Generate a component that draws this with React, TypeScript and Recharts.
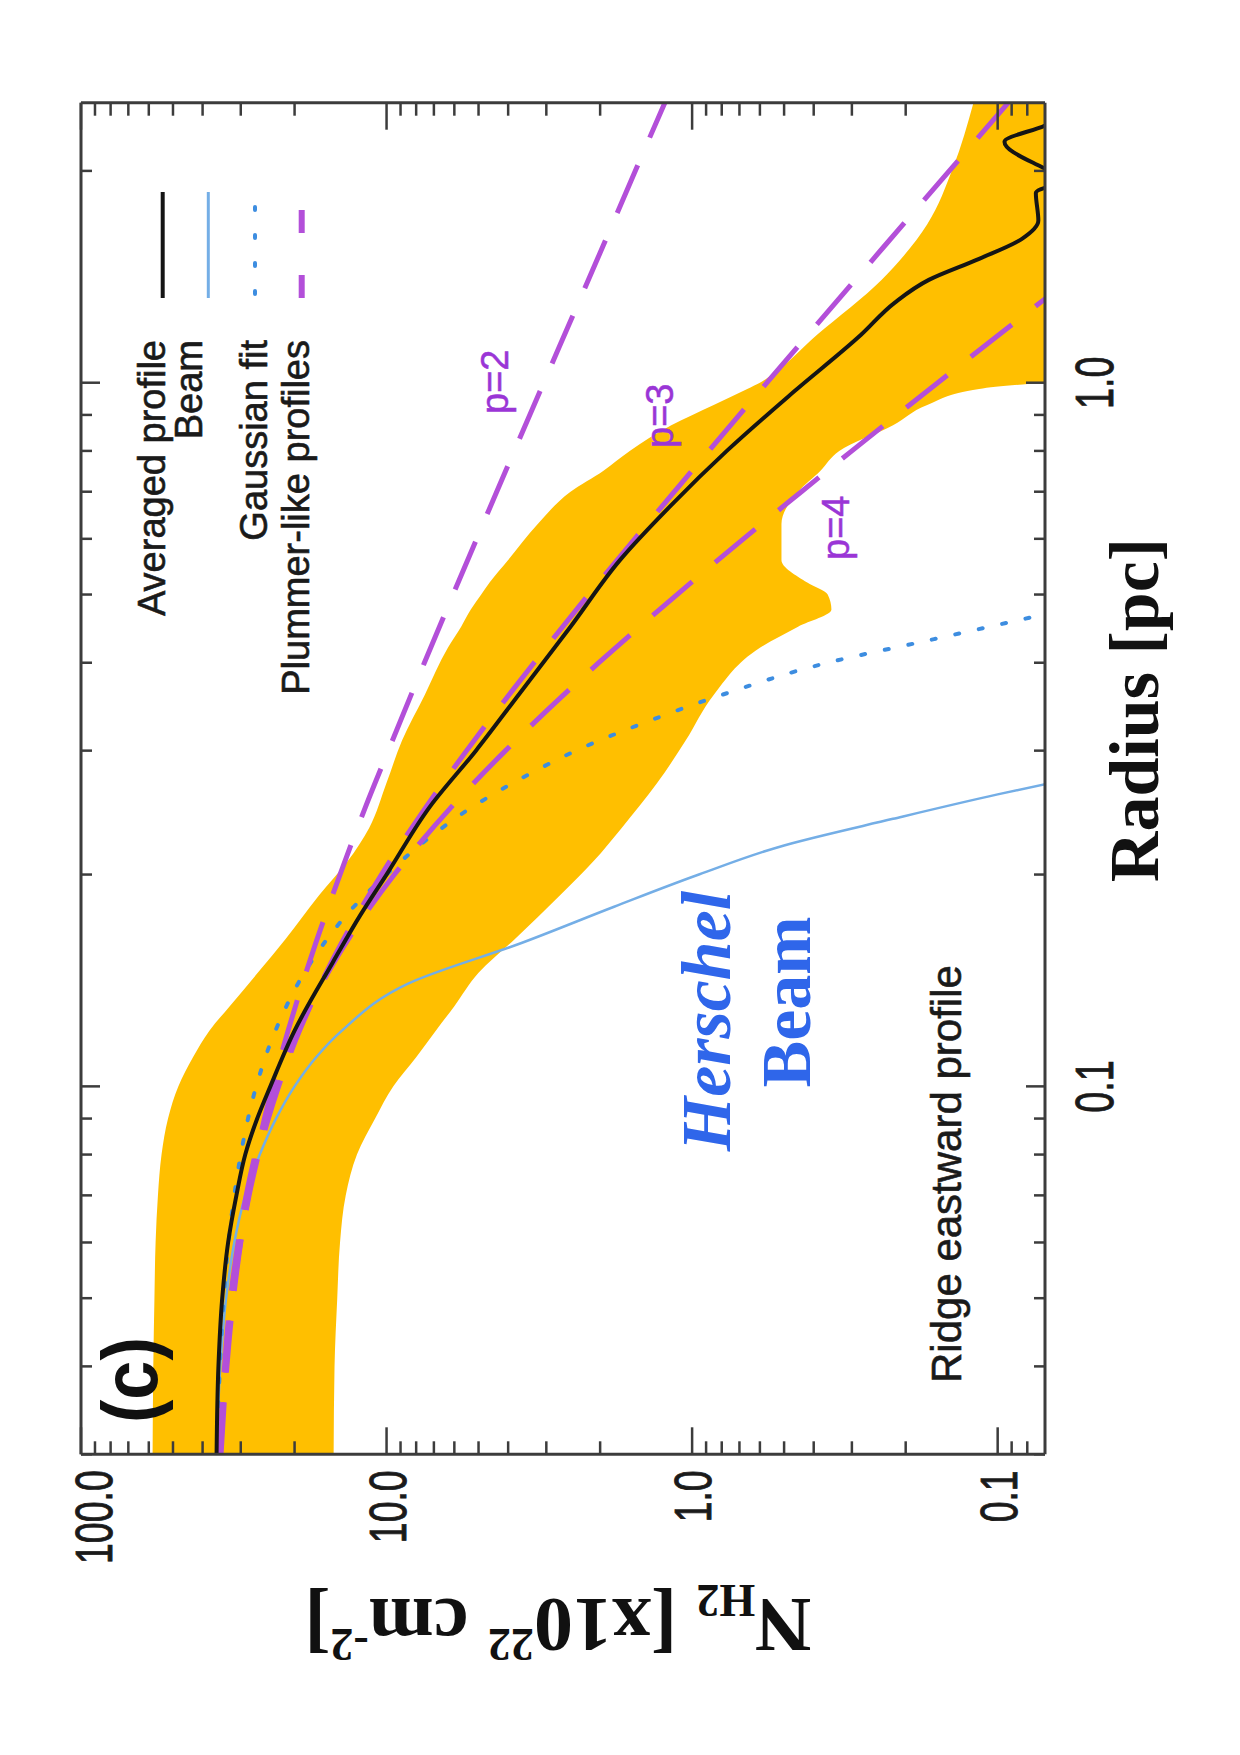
import React from 'react';
import { ComposedChart, Line, Area, XAxis, YAxis } from 'recharts';

// ---------- data (radius in pc, column density in 1e22 cm^-2) ----------
const radiusTicks = [0.03, 0.04, 0.05, 0.06, 0.07, 0.08, 0.09, 0.1, 0.2, 0.3, 0.4, 0.5, 0.6, 0.7, 0.8, 0.9, 1, 2];
const radiusTickLabels: Record<string, string> = { '0.1': '0.1', '1': '1.0' };
const columnTicks = [0.08, 0.09, 0.1, 0.2, 0.3, 0.4, 0.5, 0.6, 0.7, 0.8, 0.9, 1, 2, 3, 4, 5, 6, 7, 8, 9, 10, 20, 30, 40, 50, 60, 70, 80, 90, 100];
const columnTickLabels: Record<string, string> = { '0.1': '0.1', '1': '1.0', '10': '10.0', '100': '100.0' };

const bandRadius = [0.03, 0.04, 0.05, 0.06, 0.07, 0.08, 0.09, 0.1, 0.11, 0.12, 0.13, 0.145, 0.162, 0.187, 0.209, 0.233, 0.27, 0.31, 0.36, 0.42, 0.45, 0.476, 0.5, 0.52, 0.56, 0.63, 0.7, 0.75, 0.8, 0.87, 0.93, 0.98, 1.0, 1.02, 1.17, 1.4, 1.68, 2.02, 2.5];
const bandHigh = [58.3, 58.0, 57.5, 57.0, 56.0, 54.5, 51.9, 48.0, 43.0, 38.0, 32.6, 26.4, 21.4, 16.6, 13.4, 11.4, 10.0, 8.9, 7.5, 6.3, 5.7, 5.3, 4.9, 4.6, 4.0, 3.2, 2.5, 1.95, 1.6, 1.17, 0.85, 0.66, 0.6, 0.56, 0.39, 0.24, 0.17, 0.14, 0.12];
const bandLow = [14.9, 14.8, 14.5, 14.2, 13.6, 12.5, 10.9, 9.5, 8.0, 6.9, 6.0, 5.0, 3.8, 2.7, 2.1, 1.7, 1.3, 1.05, 0.85, 0.6, 0.45, 0.35, 0.36, 0.42, 0.51, 0.51, 0.45, 0.38, 0.33, 0.22, 0.17, 0.115, 0.07, 0.03, 0.03, 0.03, 0.03, 0.03, 0.03];

const averagedProfile: [number, number][] = [
  [0.03, 36], [0.04, 35.5], [0.05, 34.5], [0.06, 33], [0.07, 31], [0.08, 29], [0.09, 26.5], [0.1, 24],
  [0.12, 20], [0.15, 15], [0.175, 12.2], [0.2, 10], [0.25, 7.2], [0.3, 5.1], [0.36, 3.7], [0.45, 2.5],
  [0.56, 1.72], [0.67, 1.17], [0.8, 0.77], [0.97, 0.466], [1.17, 0.28], [1.3, 0.217], [1.4, 0.168],
  [1.5, 0.115], [1.6, 0.0835], [1.7, 0.0736], [1.86, 0.075], [1.95, 0.06], [2.02, 0.071], [2.2, 0.095],
  [2.32, 0.07], [2.47, 0.056],
];

const beamProfile: [number, number][] = [
  [0.03, 36], [0.04, 35], [0.05, 33.5], [0.06, 31.5], [0.07, 29], [0.08, 26], [0.09, 23], [0.1, 20],
  [0.11, 17], [0.12, 14], [0.14, 8.5], [0.16, 3.6], [0.18, 1.8], [0.2, 0.95], [0.22, 0.5], [0.24, 0.22],
  [0.26, 0.1], [0.28, 0.045],
];

const gaussianFit: [number, number][] = [
  [0.03, 35.9], [0.04, 35.1], [0.05, 34.1], [0.06, 32.9], [0.07, 31.5], [0.08, 30.0], [0.09, 28.4],
  [0.1, 26.7], [0.12, 23.1], [0.15, 17.7], [0.18, 12.8], [0.2, 10.0], [0.22, 7.8], [0.25, 5.2],
  [0.28, 3.3], [0.3, 2.4], [0.33, 1.4], [0.36, 0.8], [0.4, 0.36], [0.43, 0.17], [0.46, 0.085], [0.49, 0.045],
];

const plummerP2: [number, number][] = [
  [0.03, 34.8], [0.04, 33.3], [0.05, 31.7], [0.06, 30.0], [0.07, 28.3], [0.08, 26.6], [0.09, 25.1],
  [0.1, 23.6], [0.12, 21.0], [0.15, 17.9], [0.2, 14.2], [0.25, 11.7], [0.3, 9.87], [0.4, 7.52],
  [0.5, 6.06], [0.6, 5.07], [0.7, 4.36], [0.8, 3.82], [1.0, 3.06], [1.2, 2.55], [1.5, 2.04],
  [2.0, 1.535], [2.5, 1.228],
];

const plummerP3: [number, number][] = [
  [0.03, 34.98], [0.04, 33.56], [0.05, 31.9], [0.06, 30.07], [0.07, 28.17], [0.08, 26.25], [0.09, 24.37],
  [0.1, 22.56], [0.12, 19.26], [0.15, 15.16], [0.2, 10.39], [0.25, 7.4], [0.3, 5.47], [0.4, 3.29],
  [0.5, 2.18], [0.6, 1.54], [0.7, 1.143], [0.8, 0.882], [1.0, 0.569], [1.2, 0.397], [1.5, 0.255],
  [2.0, 0.144], [2.5, 0.0923],
];

const plummerP4: [number, number][] = [
  [0.03, 35.2], [0.04, 33.9], [0.05, 32.4], [0.06, 30.6], [0.07, 28.8], [0.08, 26.9], [0.09, 24.9],
  [0.1, 23.0], [0.12, 19.45], [0.15, 14.87], [0.2, 9.43], [0.25, 6.11], [0.3, 4.08], [0.4, 2.02],
  [0.5, 1.12], [0.6, 0.679], [0.7, 0.439], [0.8, 0.3], [1.0, 0.157], [1.2, 0.0919], [1.5, 0.0475],
  [1.8, 0.0277],
];

const legendItems = ['Averaged profile', 'Beam', 'Gaussian fit', 'Plummer-like profiles'];

// ---------- helpers ----------
const toRows = (pairs: [number, number][]) => pairs.map(([r, n]) => ({ r, n }));
const bandRows = bandRadius.map((r, i) => ({ r, band: [bandLow[i], bandHigh[i]] }));

const COLORS = {
  band: '#FFBF00',
  avg: '#151515',
  beam: '#74aee6',
  gauss: '#3d8de0',
  plummer: '#b34fd9',
  frame: '#3c3c3c',
  text: '#1a1a1a',
};

const W = 1755;
const H = 1240;
const TICK_FONT = 'Liberation Sans, Arial, Helvetica, sans-serif';
const SERIF = 'Liberation Serif, Times New Roman, serif';
const DASH = '52 30';

const XTickBottom = (props: any) => {
  const { x, y, payload } = props;
  const label = radiusTickLabels[String(payload.value)];
  const len = label ? 19 : 11;
  return (
    <g>
      <line x1={x} x2={x} y1={y} y2={y - len} stroke={COLORS.frame} strokeWidth={2.5} />
      {label && (
        <text transform={`translate(${x},${y + 68}) scale(0.7,1)`} textAnchor="middle" fontSize={54} fontFamily={TICK_FONT} fill={COLORS.text} stroke={COLORS.text} strokeWidth={0.9}>
          {label}
        </text>
      )}
    </g>
  );
};

const XTickTop = (props: any) => {
  const { x, y, payload } = props;
  const len = radiusTickLabels[String(payload.value)] ? 19 : 11;
  return <line x1={x} x2={x} y1={y} y2={y + len} stroke={COLORS.frame} strokeWidth={2.5} />;
};

const YTickLeft = (props: any) => {
  const { x, y, payload } = props;
  const label = columnTickLabels[String(payload.value)];
  const len = label ? 27 : 13;
  const dy = payload.value === 100 ? 12 : 0;
  return (
    <g>
      <line x1={x} x2={x + len} y1={y} y2={y} stroke={COLORS.frame} strokeWidth={2.5} />
      {label && (
        <text transform={`translate(${x - 16},${y + 19 + dy}) scale(0.72,1)`} textAnchor="end" fontSize={52} fontFamily={TICK_FONT} fill={COLORS.text} stroke={COLORS.text} strokeWidth={0.9}>
          {label}
        </text>
      )}
    </g>
  );
};

const YTickRight = (props: any) => {
  const { x, y, payload } = props;
  const len = columnTickLabels[String(payload.value)] ? 27 : 13;
  return <line x1={x} x2={x - len} y1={y} y2={y} stroke={COLORS.frame} strokeWidth={2.5} />;
};

const Overlay = () => (
  <svg width={W} height={H} style={{ position: 'absolute', left: 0, top: 0, pointerEvents: 'none' }}>
    {/* legend */}
    <g fontFamily={TICK_FONT} fontSize={38} fill={COLORS.text} stroke={COLORS.text} strokeWidth={0.6}>
      <text x={1415} y={165} textAnchor="end">{legendItems[0]}</text>
      <text x={1415} y={202} textAnchor="end">{legendItems[1]}</text>
      <text x={1415} y={267} textAnchor="end">{legendItems[2]}</text>
      <text x={1415} y={309} textAnchor="end">{legendItems[3]}</text>
    </g>
    <line x1={1457} x2={1563} y1={162.7} y2={162.7} stroke={COLORS.avg} strokeWidth={4} />
    <line x1={1457} x2={1563} y1={208.3} y2={208.3} stroke={COLORS.beam} strokeWidth={3} />
    <line x1={1461} x2={1563} y1={255} y2={255} stroke={COLORS.gauss} strokeWidth={4} strokeDasharray="3 25" strokeLinecap="round" />
    <line x1={1457} x2={1563} y1={301.7} y2={301.7} stroke={COLORS.plummer} strokeWidth={6} strokeDasharray="23 42" />

    {/* panel label */}
    <text transform="translate(332,157) scale(0.9,1)" fontSize={78} fontWeight="bold" fontFamily={TICK_FONT} fill="#111">(c)</text>

    {/* annotations */}
    <text x={372} y={961} fontSize={42} fontFamily={TICK_FONT} fill={COLORS.text} stroke={COLORS.text} strokeWidth={0.6}>Ridge eastward profile</text>
    <text x={734} y={730} textAnchor="middle" fontSize={70} fontWeight="bold" fontStyle="italic" fontFamily={SERIF} fill="#2f66ea">Herschel</text>
    <text x={753} y={810} textAnchor="middle" fontSize={70} fontWeight="bold" fontFamily={SERIF} fill="#2f66ea">Beam</text>

    <g fontFamily={TICK_FONT} fontSize={38} fill="#9a35d6" stroke="#9a35d6" strokeWidth={0.5}>
      <text x={1341} y={508}>p=2</text>
      <text x={1307} y={673}>p=3</text>
      <text x={1195} y={849}>p=4</text>
    </g>

    {/* axis titles */}
    <text x={1045} y={1158} textAnchor="middle" fontSize={70} fontWeight="bold" fontFamily={SERIF} fill="#111">Radius [pc]</text>
    <text transform="translate(156,558) rotate(-90)" textAnchor="middle" fontSize={78} fontWeight="bold" fontFamily={SERIF} fill="#111">
      N<tspan fontSize={46} dy={14}>H2</tspan>
      <tspan dy={-14}> [x10</tspan>
      <tspan fontSize={46} dy={-30}>22</tspan>
      <tspan dy={30}> cm</tspan>
      <tspan fontSize={46} dy={-30}>-2</tspan>
      <tspan dy={30}>]</tspan>
    </text>
  </svg>
);

export default function App() {
  return (
    <div style={{ position: 'absolute', left: 0, top: 0, width: 1240, height: 1755, overflow: 'hidden', background: '#fff' }}>
      <div style={{ position: 'absolute', left: 0, top: 1755, width: W, height: H, transform: 'rotate(-90deg)', transformOrigin: '0 0' }}>
        <ComposedChart width={W} height={H} margin={{ top: 61, right: 82.7, bottom: 95, left: 100.7 }}>
          <Area
            data={bandRows}
            dataKey="band"
            xAxisId="b"
            yAxisId="l"
            type="monotone"
            stroke="none"
            fill={COLORS.band}
            fillOpacity={1}
            isAnimationActive={false}
            dot={false}
            activeDot={false}
          />
          <Line data={toRows(beamProfile)} dataKey="n" xAxisId="b" yAxisId="l" type="monotone" stroke={COLORS.beam} strokeWidth={2.5} dot={false} activeDot={false} isAnimationActive={false} />
          <Line data={toRows(gaussianFit)} dataKey="n" xAxisId="b" yAxisId="l" type="monotone" stroke={COLORS.gauss} strokeWidth={4} strokeDasharray="4 20" strokeLinecap="round" dot={false} activeDot={false} isAnimationActive={false} />
          <Line data={toRows(plummerP2)} dataKey="n" xAxisId="b" yAxisId="l" type="monotone" stroke={COLORS.plummer} strokeWidth={5} strokeDasharray={DASH} dot={false} activeDot={false} isAnimationActive={false} />
          <Line data={toRows(plummerP3)} dataKey="n" xAxisId="b" yAxisId="l" type="monotone" stroke={COLORS.plummer} strokeWidth={5} strokeDasharray={DASH} dot={false} activeDot={false} isAnimationActive={false} />
          <Line data={toRows(plummerP4)} dataKey="n" xAxisId="b" yAxisId="l" type="monotone" stroke={COLORS.plummer} strokeWidth={5} strokeDasharray={DASH} dot={false} activeDot={false} isAnimationActive={false} />
          <Line data={toRows(averagedProfile)} dataKey="n" xAxisId="b" yAxisId="l" type="monotone" stroke={COLORS.avg} strokeWidth={4} dot={false} activeDot={false} isAnimationActive={false} />

          <XAxis
            xAxisId="b"
            dataKey="r"
            type="number"
            scale="log"
            domain={[0.03, 2.5]}
            allowDataOverflow
            ticks={radiusTicks}
            interval={0}
            height={100}
            tickSize={0}
            tickMargin={0}
            tickLine={false}
            axisLine={{ stroke: COLORS.frame, strokeWidth: 3 }}
            tick={<XTickBottom />}
          />
          <XAxis
            xAxisId="t"
            orientation="top"
            dataKey="r"
            type="number"
            scale="log"
            domain={[0.03, 2.5]}
            allowDataOverflow
            ticks={radiusTicks}
            interval={0}
            height={20}
            tickSize={0}
            tickMargin={0}
            tickLine={false}
            axisLine={{ stroke: COLORS.frame, strokeWidth: 3 }}
            tick={<XTickTop />}
          />
          <YAxis
            yAxisId="l"
            type="number"
            scale="log"
            domain={[0.07, 100]}
            allowDataOverflow
            ticks={columnTicks}
            interval={0}
            width={200}
            tickSize={0}
            tickMargin={0}
            tickLine={false}
            axisLine={{ stroke: COLORS.frame, strokeWidth: 3 }}
            tick={<YTickLeft />}
          />
          <YAxis
            yAxisId="r"
            orientation="right"
            type="number"
            scale="log"
            domain={[0.07, 100]}
            allowDataOverflow
            ticks={columnTicks}
            interval={0}
            width={20}
            tickSize={0}
            tickMargin={0}
            tickLine={false}
            axisLine={{ stroke: COLORS.frame, strokeWidth: 3 }}
            tick={<YTickRight />}
          />
        </ComposedChart>
        <Overlay />
      </div>
    </div>
  );
}
